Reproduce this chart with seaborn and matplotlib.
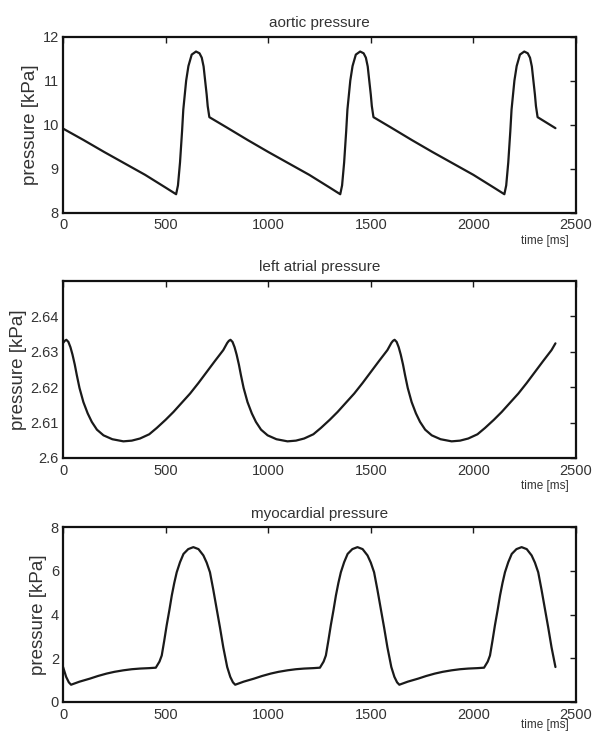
import numpy as np
import pandas as pd
import seaborn as sns
import matplotlib.pyplot as plt

# values (time in ms, pressure in kPa)
aortic_time = [
    0, 100, 200, 300, 400, 500, 551, 560, 570, 580, 586, 600, 611, 627, 648, 665, 676, 685, 692, 700, 705, 713,
    800, 900, 1000, 1100, 1200, 1300, 1351, 1360, 1370, 1380, 1386, 1400, 1411, 1427, 1448, 1465, 1476, 1485, 1492, 1500, 1505, 1513,
    1600, 1700, 1800, 1900, 2000, 2100, 2151, 2160, 2170, 2180, 2186, 2200, 2211, 2227, 2248, 2265, 2276, 2285, 2292, 2300, 2305, 2313,
    2400]
aortic_kpa = [
    9.91, 9.65, 9.38, 9.12, 8.86, 8.57, 8.42, 8.62, 9.14, 9.85, 10.34, 11.00, 11.33, 11.59, 11.66, 11.62, 11.52, 11.32, 11.02, 10.68, 10.42, 10.17,
    9.93, 9.65, 9.38, 9.12, 8.86, 8.57, 8.42, 8.62, 9.14, 9.85, 10.34, 11.00, 11.33, 11.59, 11.66, 11.62, 11.52, 11.32, 11.02, 10.68, 10.42, 10.17,
    9.93, 9.65, 9.38, 9.12, 8.86, 8.57, 8.42, 8.62, 9.14, 9.85, 10.34, 11.00, 11.33, 11.59, 11.66, 11.62, 11.52, 11.32, 11.02, 10.68, 10.42, 10.17,
    9.92]

atrial_time = [
    0, 8, 16, 26, 36, 46, 57, 67, 80, 99, 120, 140, 165, 197, 240, 294, 335, 375, 420, 457, 500, 538, 580, 619, 660, 700, 740, 781,
    800, 808, 816, 826, 836, 846, 857, 867, 880, 899, 920, 940, 965, 997, 1040, 1094, 1135, 1175, 1220, 1257, 1300, 1338, 1380, 1419, 1460, 1500, 1540, 1581,
    1600, 1608, 1616, 1626, 1636, 1646, 1657, 1667, 1680, 1699, 1720, 1740, 1765, 1797, 1840, 1894, 1935, 1975, 2020, 2057, 2100, 2138, 2180, 2219, 2260, 2300, 2340, 2381,
    2400]
atrial_kpa = [
    2.6325, 2.6331, 2.6334, 2.6328, 2.6313, 2.6292, 2.6264, 2.6234, 2.6198, 2.6158, 2.6126, 2.6102, 2.6080, 2.6064,
    2.6053, 2.6047, 2.6049, 2.6055, 2.6067, 2.6085, 2.6108, 2.6130, 2.6157, 2.6182, 2.6212, 2.6243, 2.6274, 2.6305,
    2.6325, 2.6331, 2.6334, 2.6328, 2.6313, 2.6292, 2.6264, 2.6234, 2.6198, 2.6158, 2.6126, 2.6102, 2.6080, 2.6064,
    2.6053, 2.6047, 2.6049, 2.6055, 2.6067, 2.6085, 2.6108, 2.6130, 2.6157, 2.6182, 2.6212, 2.6243, 2.6274, 2.6305,
    2.6325, 2.6331, 2.6334, 2.6328, 2.6313, 2.6292, 2.6264, 2.6234, 2.6198, 2.6158, 2.6126, 2.6102, 2.6080, 2.6064,
    2.6053, 2.6047, 2.6049, 2.6055, 2.6067, 2.6085, 2.6108, 2.6130, 2.6157, 2.6182, 2.6212, 2.6243, 2.6274, 2.6305,
    2.6324]

myo_time = [
    0, 15, 28, 39, 80, 131, 170, 212, 250, 294, 335, 375, 420, 452, 470, 481, 493, 505, 518, 530, 542, 554,
    570, 587, 610, 635, 660, 684, 700, 716, 732, 748, 765, 781,
    800, 815, 828, 839, 880, 931, 970, 1012, 1050, 1094, 1135, 1175, 1220, 1252, 1270, 1281, 1293, 1305, 1318, 1330, 1342, 1354,
    1370, 1387, 1410, 1435, 1460, 1484, 1500, 1516, 1532, 1548, 1565, 1581,
    1600, 1615, 1628, 1639, 1680, 1731, 1770, 1812, 1850, 1894, 1935, 1975, 2020, 2052, 2070, 2081, 2093, 2105, 2118, 2130, 2142, 2154,
    2170, 2187, 2210, 2235, 2260, 2284, 2300, 2316, 2332, 2348, 2365, 2381,
    2400]
myo_kpa = [
    1.60, 1.15, 0.90, 0.79, 0.93, 1.07, 1.19, 1.30, 1.38, 1.45, 1.50, 1.53, 1.55, 1.57, 1.85, 2.13, 2.80, 3.51, 4.20, 4.88, 5.45, 5.94,
    6.40, 6.78, 7.00, 7.09, 7.00, 6.71, 6.38, 5.94, 5.15, 4.30, 3.40, 2.50,
    1.60, 1.15, 0.90, 0.79, 0.93, 1.07, 1.19, 1.30, 1.38, 1.45, 1.50, 1.53, 1.55, 1.57, 1.85, 2.13, 2.80, 3.51, 4.20, 4.88, 5.45, 5.94,
    6.40, 6.78, 7.00, 7.09, 7.00, 6.71, 6.38, 5.94, 5.15, 4.30, 3.40, 2.50,
    1.60, 1.15, 0.90, 0.79, 0.93, 1.07, 1.19, 1.30, 1.38, 1.45, 1.50, 1.53, 1.55, 1.57, 1.85, 2.13, 2.80, 3.51, 4.20, 4.88, 5.45, 5.94,
    6.40, 6.78, 7.00, 7.09, 7.00, 6.71, 6.38, 5.94, 5.15, 4.30, 3.40, 2.50,
    1.60]

titles = ['aortic pressure', 'left atrial pressure', 'myocardial pressure']
x_ticks = [0, 500, 1000, 1500, 2000, 2500]
y_ticks = [[8, 9, 10, 11, 12], [2.6, 2.61, 2.62, 2.63, 2.64], [0, 2, 4, 6, 8]]
y_ticklabels = [['8', '9', '10', '11', '12'], ['2.6', '2.61', '2.62', '2.63', '2.64'], ['0', '2', '4', '6', '8']]
y_lims = [(8, 12), (2.6, 2.65), (0, 8)]

sns.set_style('white')
plt.rcParams['font.family'] = ['Liberation Sans', 'DejaVu Sans']
text_col = '#333333'

fig = plt.figure(figsize=(5.95, 7.31), dpi=100)
# axes boxes [left, bottom, width, height] in figure fractions
boxes = [[0.106, 0.709, 0.862, 0.241],
         [0.106, 0.3735, 0.862, 0.242],
         [0.106, 0.0397, 0.862, 0.239]]
ylabel_x = [-0.047, -0.071, -0.032]
xlabel_y = [-0.125, -0.125, -0.095]

series = [(aortic_time, aortic_kpa), (atrial_time, atrial_kpa), (myo_time, myo_kpa)]

for i, (t, p) in enumerate(series):
    ax = fig.add_axes(boxes[i])
    df = pd.DataFrame({'time': t, 'pressure': p})
    sns.lineplot(data=df, x='time', y='pressure', ax=ax, color='#1a1a1a',
                 linewidth=1.6, estimator=None, sort=False)
    ax.set_xlim(0, 2500)
    ax.set_ylim(*y_lims[i])
    ax.set_xticks(x_ticks)
    ax.set_xticklabels([str(v) for v in x_ticks])
    ax.set_yticks(y_ticks[i])
    ax.set_yticklabels(y_ticklabels[i])
    ax.tick_params(direction='in', length=4, width=1, top=True, right=True,
                   colors='#1a1a1a', labelcolor=text_col, labelsize=10.5)
    ax.tick_params(axis='x', pad=4)
    ax.tick_params(axis='y', pad=3)
    for s in ax.spines.values():
        s.set_color('#111111')
        s.set_linewidth(1.6)
    ax.set_title(titles[i], color=text_col, fontsize=11, pad=7)
    ax.set_ylabel('pressure [kPa]', color=text_col, fontsize=13.5)
    ax.yaxis.set_label_coords(ylabel_x[i], 0.5)
    ax.set_xlabel('time [ms]', color=text_col, fontsize=8.5)
    ax.xaxis.set_label_coords(0.94, xlabel_y[i])

fig.savefig('out.png', dpi=100)
